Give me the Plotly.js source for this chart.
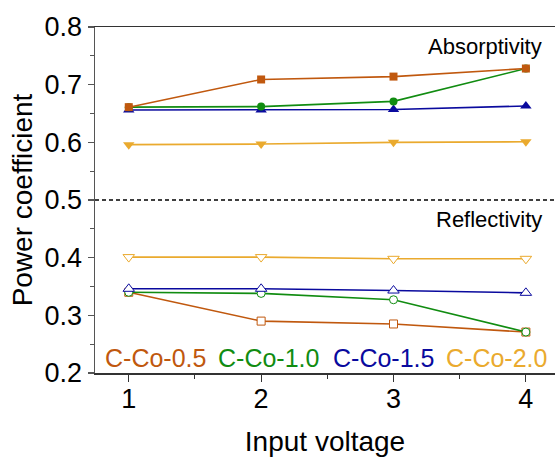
<!DOCTYPE html>
<html>
<head>
<meta charset="utf-8">
<script src="https://cdn.plot.ly/plotly-3.0.1.min.js"></script>
<style>html,body{margin:0;padding:0;background:#fff;}#chart{width:555px;height:462px;}</style>
</head>
<body>
<div id="chart"></div>
<script>
const voltage = [1, 2, 3, 4];
const seriesNames = ["C-Co-0.5", "C-Co-1.0", "C-Co-1.5", "C-Co-2.0"];
const absorptivity05 = [0.661, 0.709, 0.714, 0.728];
const absorptivity10 = [0.661, 0.662, 0.671, 0.728];
const absorptivity15 = [0.656, 0.656, 0.657, 0.663];
const absorptivity20 = [0.596, 0.597, 0.600, 0.601];
const reflectivity05 = [0.340, 0.290, 0.285, 0.271];
const reflectivity10 = [0.340, 0.338, 0.327, 0.271];
const reflectivity15 = [0.346, 0.346, 0.343, 0.339];
const reflectivity20 = [0.401, 0.401, 0.398, 0.398];
const yTicks = [0.2, 0.3, 0.4, 0.5, 0.6, 0.7, 0.8];
const xTicks = [1, 2, 3, 4];

const colors = ["#C0580E", "#118C11", "#0A0A9E", "#EAAA2E"];
const symbols = ["square", "circle", "triangle-up", "triangle-down"];
const sizes = [8, 8, 10, 10];
const absData = [absorptivity05, absorptivity10, absorptivity15, absorptivity20];
const refData = [reflectivity05, reflectivity10, reflectivity15, reflectivity20];
const font = "Arial, 'Liberation Sans', sans-serif";

const traces = [];
for (let i = 0; i < 4; i++) {
  traces.push({
    x: voltage, y: refData[i], mode: "lines+markers", name: seriesNames[i],
    line: {color: colors[i], width: 1.6},
    marker: {symbol: symbols[i], size: sizes[i], color: "#ffffff", line: {color: colors[i], width: 1}},
    showlegend: false
  });
}
for (let i = 3; i >= 0; i--) {
  traces.push({
    x: voltage, y: absData[i], mode: "lines+markers", name: seriesNames[i],
    line: {color: colors[i], width: 1.6},
    marker: {symbol: symbols[i], size: sizes[i], color: colors[i], line: {width: 0}},
    showlegend: false
  });
}

const legendX = [0.1326, 0.378, 0.628, 0.873];
const annotations = [
  {text: "Absorptivity", xref: "paper", yref: "paper", x: 0.976, y: 0.945, xanchor: "right", yanchor: "middle", showarrow: false, font: {family: font, size: 22, color: "#000"}},
  {text: "Reflectivity", xref: "paper", yref: "paper", x: 0.976, y: 0.445, xanchor: "right", yanchor: "middle", showarrow: false, font: {family: font, size: 22, color: "#000"}}
];
for (let i = 0; i < 4; i++) {
  annotations.push({text: seriesNames[i], xref: "paper", yref: "paper", x: legendX[i], y: 0.0434, xanchor: "center", yanchor: "middle", showarrow: false, font: {family: font, size: 25, color: colors[i]}});
}

const layout = {
  width: 555, height: 462,
  margin: {l: 95, r: 0, t: 27, b: 89},
  paper_bgcolor: "#fff", plot_bgcolor: "#fff",
  font: {family: font, color: "#000"},
  xaxis: {
    range: [0.745, 4.22], tickvals: xTicks, ticktext: xTicks.map(String),
    showgrid: false, zeroline: false, showline: true, linecolor: "#333", linewidth: 1.5, mirror: true,
    ticks: "outside", ticklen: 7, tickwidth: 1.2, tickcolor: "#333",
    minor: {tickvals: [1.5, 2.5, 3.5], ticks: "outside", ticklen: 4, tickcolor: "#333", tickwidth: 1},
    ticklabelstandoff: -6,
    tickfont: {size: 27, family: font, color: "#000"},
    title: {text: "Input voltage", font: {size: 28, family: font, color: "#000"}, standoff: 18}
  },
  yaxis: {
    range: [0.2, 0.8], tickvals: yTicks, ticktext: yTicks.map(v => v.toFixed(1)),
    showgrid: false, zeroline: false, showline: true, linecolor: "#555", linewidth: 1.5,
    ticks: "outside", ticklen: 6, tickwidth: 1.2, tickcolor: "#555",
    minor: {tickvals: [0.25, 0.35, 0.45, 0.55, 0.65, 0.75], ticks: "outside", ticklen: 4, tickcolor: "#555", tickwidth: 1},
    ticklabelstandoff: 0,
    tickfont: {size: 27, family: font, color: "#000"},
    title: {text: "Power coefficient", font: {size: 28, family: font, color: "#000"}, standoff: 4}
  },
  shapes: [{type: "line", xref: "paper", yref: "y", x0: 0, x1: 1, y0: 0.5, y1: 0.5, line: {color: "#000", width: 1.5, dash: "4px,3px"}}],
  annotations: annotations
};
Plotly.newPlot("chart", traces, layout, {displayModeBar: false, staticPlot: true});
</script>
</body>
</html>
